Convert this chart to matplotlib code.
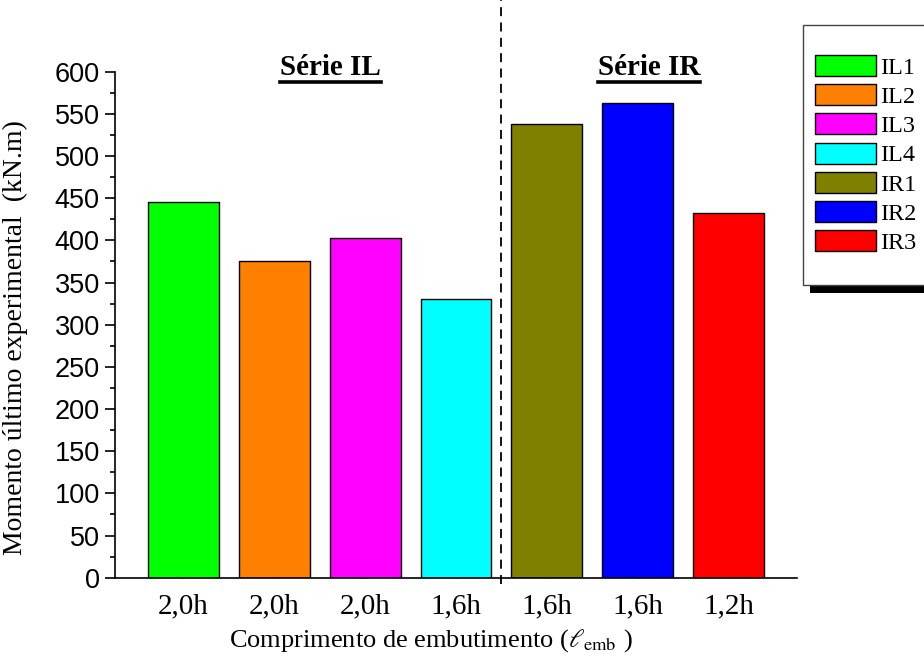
import numpy as np
import matplotlib
matplotlib.use('Agg')
import matplotlib.pyplot as plt
import matplotlib.transforms as mtransforms
from matplotlib.patches import Rectangle
from matplotlib.lines import Line2D
from matplotlib.ticker import MultipleLocator

plt.rcParams['font.family'] = ['Liberation Serif', 'DejaVu Serif']
plt.rcParams['mathtext.fontset'] = 'stix'

# data
names = ['IL1', 'IL2', 'IL3', 'IL4', 'IR1', 'IR2', 'IR3']
lengths = ['2,0h', '2,0h', '2,0h', '1,6h', '1,6h', '1,6h', '1,2h']
moment = [446, 376, 403, 330, 538, 563, 432]
colors = ['#00FF00', '#FF8000', '#FF00FF', '#00FFFF', '#808000', '#0000FF', '#FF0000']
series = ['Série IL', 'Série IR']
series_members = [4, 3]

W, H = 924, 661
fig = plt.figure(figsize=(W / 100, H / 100), dpi=100)
ax = fig.add_axes([115 / W, 1 - 577.7 / H, 682 / W, 506 / H])

x = np.arange(1, len(moment) + 1)
bars = ax.bar(x, moment, width=0.78, color=colors, edgecolor='black', linewidth=1.0, zorder=2)

ax.set_xlim(0.25, len(moment) + 0.75)
ax.set_ylim(0, 600)
ax.set_axisbelow(True)

for s in ['top', 'right']:
    ax.spines[s].set_visible(False)
for s in ['left', 'bottom']:
    ax.spines[s].set_linewidth(1.2)
    ax.spines[s].set_zorder(3)

ax.yaxis.set_major_locator(MultipleLocator(50))
ax.yaxis.set_minor_locator(MultipleLocator(25))
ax.tick_params(axis='y', which='major', direction='out', length=7, width=1.2, pad=4,
               labelsize=19.5, labelfontfamily='Liberation Sans')
ax.tick_params(axis='y', which='minor', direction='out', length=3.5, width=1.2)
ax.set_xticks(x)
ax.set_xticklabels(lengths)
ax.tick_params(axis='x', which='major', direction='in', length=5, width=1.0, pad=11, labelsize=21)

ax.set_ylabel('Momento último experimental  (kN.m)', fontsize=20)
ax.yaxis.set_label_coords(-0.128, 0.475)
ax.set_xlabel(r'Comprimento de embutimento ($\ell_{\rm emb}$ )', fontsize=19)
ax.xaxis.set_label_coords(0.463, -0.097)

# dashed separator between the two series
split = series_members[0] + 0.5
ax.axvline(split, ymin=-0.012, ymax=577.7 / 506, color='black', linestyle=(0, (5, 3.5)),
           linewidth=1.3, clip_on=False, zorder=4)

# series titles, underlined
trans = mtransforms.blended_transform_factory(ax.transData, ax.transAxes)
start = 1
titles = []
for lab, n in zip(series, series_members):
    cx = start + (n - 1) / 2 + 0.12
    t = ax.text(cx, 1.008, lab, transform=trans, ha='center', va='center',
                fontsize=21, fontweight='bold')
    titles.append(t)
    start += n

fig.canvas.draw()
renderer = fig.canvas.get_renderer()
for t in titles:
    bb = t.get_window_extent(renderer)
    yline = bb.y0 - 1
    fig.add_artist(Line2D([bb.x0 / W, bb.x1 / W], [yline / H, yline / H],
                          transform=fig.transFigure, color='black', linewidth=2.6))

# legend box with shadow, as in the reference
fig.add_artist(Rectangle((810 / W, 1 - 293 / H), 200 / W, 260 / H, transform=fig.transFigure,
                         facecolor='black', edgecolor='none', zorder=1))
fig.add_artist(Rectangle((803 / W, 1 - 285 / H), 200 / W, 260 / H, transform=fig.transFigure,
                         facecolor='white', edgecolor='#444444', linewidth=1.0, zorder=2))
fig.legend(bars.patches, names, loc='upper left', bbox_to_anchor=(815 / W, 1 - 55 / H),
           frameon=False, borderpad=0, borderaxespad=0, fontsize=17.5,
           handlelength=2.5, handleheight=0.95, handletextpad=0.2, labelspacing=0.22)

fig.savefig('out.png', dpi=100)
